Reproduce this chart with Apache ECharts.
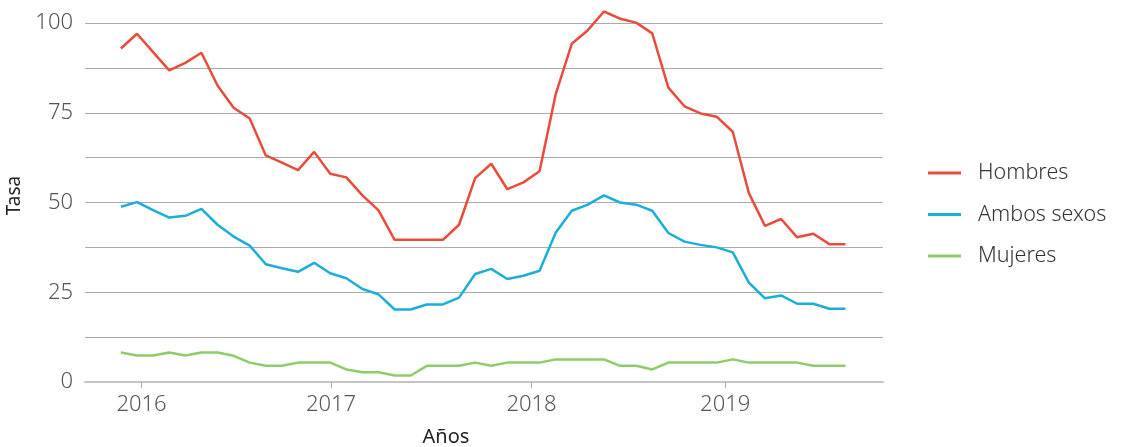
<!DOCTYPE html>
<html>
<head>
<meta charset="utf-8">
<script src="https://cdn.jsdelivr.net/npm/echarts@6/dist/echarts.min.js"></script>
<style>
  html, body { margin: 0; padding: 0; background: #fff; }
  #chart { width: 1127px; height: 447px; }
</style>
</head>
<body>
<div id="chart"></div>
<script>
// mensual, de dic 2015 a sep 2019 (índice 0 = dic 2015)
var hombres = [92.9, 97.0, 91.9, 86.8, 88.9, 91.7, 82.6, 76.4, 73.4, 63.1,
    61.1, 59.0, 64.1, 58.0, 57.0, 52.0, 47.8, 39.6, 39.6, 39.6,
    39.6, 43.8, 56.8, 60.8, 53.7, 55.6, 58.7, 80.1, 94.2, 98.0,
    103.2, 101.2, 100.1, 97.1, 82.0, 76.8, 74.8, 73.9, 69.7, 52.6,
    43.5, 45.4, 40.3, 41.3, 38.4, 38.4];
var ambos = [48.8, 50.1, 47.9, 45.8, 46.3, 48.2, 43.8, 40.5, 38.0, 32.8,
    31.7, 30.7, 33.2, 30.3, 28.9, 25.9, 24.4, 20.2, 20.2, 21.6,
    21.6, 23.5, 30.1, 31.5, 28.7, 29.6, 31.0, 41.6, 47.7, 49.4,
    52.0, 50.0, 49.4, 47.7, 41.5, 39.1, 38.2, 37.5, 36.1, 27.7,
    23.3, 24.1, 21.8, 21.8, 20.4, 20.4];
var mujeres = [8.2, 7.4, 7.4, 8.2, 7.4, 8.2, 8.2, 7.3, 5.4, 4.5,
    4.5, 5.4, 5.4, 5.4, 3.5, 2.7, 2.7, 1.8, 1.8, 4.5,
    4.5, 4.5, 5.4, 4.5, 5.4, 5.4, 5.4, 6.3, 6.3, 6.3,
    6.3, 4.5, 4.5, 3.5, 5.4, 5.4, 5.4, 5.4, 6.3, 5.4,
    5.4, 5.4, 5.4, 4.5, 4.5, 4.5];

var yearLabels = ['2016', '2017', '2018', '2019'];
var yearTicks = [1.28, 13.05, 25.5, 37.53];   // posición en meses de cada etiqueta

var font = "'Noto Sans', sans-serif";

function toPoints(arr) {
    return arr.map(function (v, i) { return [i, v]; });
}

var myChart = echarts.init(document.getElementById('chart'));
myChart.setOption({
    animation: false,
    backgroundColor: '#fff',
    color: ['#e94b3c', '#1aaed9', '#8fcb6b'],
    grid: {
        left: 85,
        right: 244,
        top: 23,
        bottom: 65,
        outerBoundsMode: 'none'
    },
    legend: {
        orient: 'vertical',
        left: 928,
        top: 162,
        padding: 0,
        itemWidth: 33,
        itemHeight: 3,
        itemGap: 19.5,
        icon: 'rect',
        textStyle: {
            fontFamily: font,
            fontSize: 21.5,
            fontWeight: 300,
            color: '#333',
            lineHeight: 20,
            padding: [0, 0, 0, 12]
        },
        data: ['Hombres', 'Ambos sexos', 'Mujeres']
    },
    xAxis: {
        type: 'value',
        min: -2.23,
        max: 47.33,
        name: 'Años',
        nameLocation: 'middle',
        nameGap: 45,
        nameTextStyle: {
            fontFamily: font,
            fontSize: 20,
            color: '#222',
            padding: [0, 76, 0, 0]
        },
        splitLine: {show: false},
        axisLine: {
            show: true,
            lineStyle: {color: '#c4c4c4', width: 2}
        },
        axisTick: {
            show: true,
            customValues: yearTicks,
            length: 6,
            lineStyle: {color: '#aaa', width: 1}
        },
        axisLabel: {
            customValues: yearTicks,
            margin: 12,
            fontFamily: font,
            fontSize: 22,
            fontWeight: 300,
            color: '#555',
            formatter: function (v) {
                var k = yearTicks.indexOf(v);
                return k >= 0 ? yearLabels[k] : '';
            }
        }
    },
    yAxis: {
        type: 'value',
        min: 0,
        max: 100,
        interval: 12.5,
        name: 'Tasa',
        nameLocation: 'middle',
        nameGap: 53,
        nameTextStyle: {
            fontFamily: font,
            fontSize: 19,
            color: '#222',
            padding: [0, 0, 0, 14]
        },
        axisLine: {show: false},
        axisTick: {show: false},
        splitLine: {
            lineStyle: {color: '#aaa', width: 1.2}
        },
        axisLabel: {
            margin: 12,
            fontFamily: font,
            fontSize: 22,
            fontWeight: 300,
            color: '#555',
            formatter: function (v) {
                return v % 25 === 0 ? String(v) : '';
            }
        }
    },
    series: [
        {
            name: 'Hombres',
            type: 'line',
            showSymbol: false,
            clip: false,
            lineStyle: {width: 2.5},
            data: toPoints(hombres)
        },
        {
            name: 'Ambos sexos',
            type: 'line',
            showSymbol: false,
            clip: false,
            lineStyle: {width: 2.5},
            data: toPoints(ambos)
        },
        {
            name: 'Mujeres',
            type: 'line',
            showSymbol: false,
            clip: false,
            lineStyle: {width: 2.5},
            data: toPoints(mujeres)
        }
    ]
});
</script>
</body>
</html>
